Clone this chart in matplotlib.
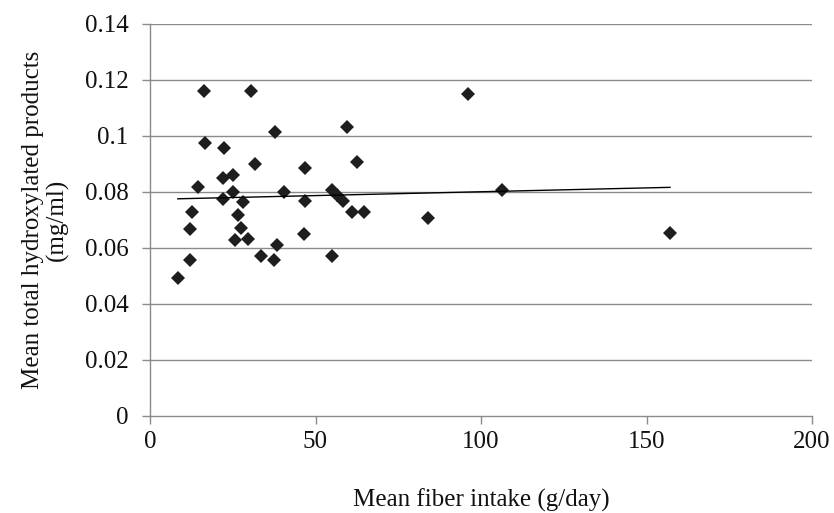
import numpy as np
import matplotlib
matplotlib.use("Agg")
import matplotlib.pyplot as plt

fiber = [8.4, 12.1, 12.1, 12.8, 14.6, 16.4, 16.7, 22.4, 22.1, 25.0,
         22.1, 25.0, 28.0, 26.5, 27.5, 25.7, 29.7, 30.5, 31.7, 33.4,
         37.5, 37.9, 38.3, 40.5, 46.8, 46.8, 46.5, 54.9, 56.6, 58.4,
         54.9, 59.6, 60.9, 62.6, 64.7, 83.9, 96.0, 106.3, 157.1]
hydroxy = [0.0492, 0.0557, 0.0668, 0.0728, 0.0819, 0.1161, 0.0974, 0.0956, 0.0849, 0.0861,
           0.0774, 0.0799, 0.0765, 0.0718, 0.0670, 0.0629, 0.0632, 0.1160, 0.0899, 0.0571,
           0.0557, 0.1013, 0.0611, 0.0800, 0.0887, 0.0769, 0.0650, 0.0807, 0.0789, 0.0769,
           0.0571, 0.1033, 0.0728, 0.0906, 0.0730, 0.0708, 0.1149, 0.0807, 0.0652]
x_ticks = [0, 50, 100, 150, 200]
y_ticks = [0, 0.02, 0.04, 0.06, 0.08, 0.1, 0.12, 0.14]
y_tick_labels = ["0", "0.02", "0.04", "0.06", "0.08", "0.1", "0.12", "0.14"]

plt.rcParams['font.family'] = ['Liberation Serif', 'DejaVu Serif']

fig = plt.figure(figsize=(8.34, 5.13), dpi=100)
ax = fig.add_axes([150/834, 1-416/513, 662/834, 392/513])

grid_color = '#8a8a8a'
for yt in y_ticks[1:]:
    ax.axhline(yt, color=grid_color, lw=1.0, zorder=1)

ax.plot(fiber, hydroxy, linestyle='none', marker='D', ms=7.6,
        color='#1e1e1e', markeredgewidth=0, zorder=3)

xa = np.array(fiber)
coef = np.polyfit(xa, np.array(hydroxy), 1)
xs = np.array([xa.min(), xa.max()])
ax.plot(xs, np.polyval(coef, xs), color='black', lw=1.0, zorder=4)

ax.set_xlim(0, 200)
ax.set_ylim(0, 0.14)
ax.set_xticks(x_ticks)
ax.set_xticklabels([str(t) for t in x_ticks])
ax.set_yticks(y_ticks)
ax.set_yticklabels(y_tick_labels)

for s in ['top', 'right']:
    ax.spines[s].set_visible(False)
for s in ['left', 'bottom']:
    ax.spines[s].set_color(grid_color)
    ax.spines[s].set_linewidth(1.0)
ax.tick_params(axis='both', direction='out', length=5.5, width=1.0,
               color=grid_color, labelsize=18, labelcolor='#111111')
ax.tick_params(axis='y', pad=10)
ax.tick_params(axis='x', pad=5)

ax.set_xlabel('Mean fiber intake (g/day)', fontsize=18, color='#111111')
ax.xaxis.set_label_coords(0.5, -0.185)
ax.set_ylabel('Mean total hydroxylated products\n(mg/ml)', fontsize=18,
              color='#111111', linespacing=1.1)
ax.yaxis.set_label_coords(-0.122, 0.5)

fig.savefig('out.png', dpi=100)
